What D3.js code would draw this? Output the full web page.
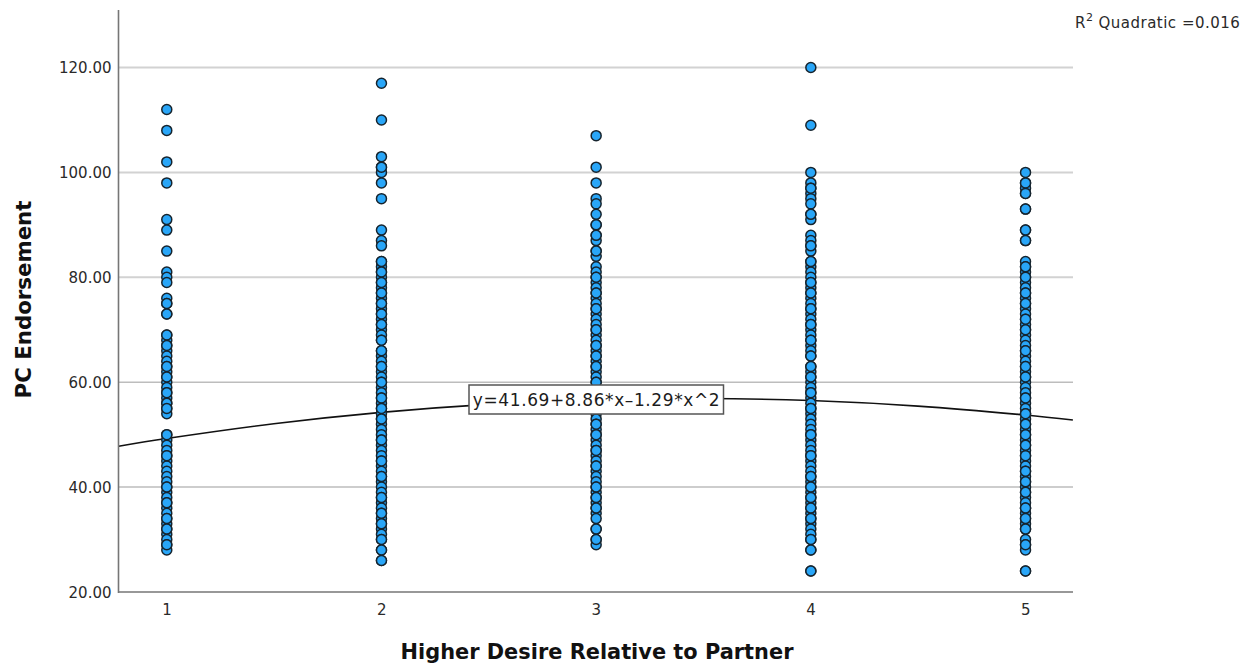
<!DOCTYPE html>
<html>
<head>
<meta charset="utf-8">
<script src="https://cdn.jsdelivr.net/npm/d3@7"></script>
<style>
html,body{margin:0;padding:0;background:#fff;}
svg{display:block;}
text{font-family:"DejaVu Sans",sans-serif;}
</style>
</head>
<body>
<svg id="chart" width="1253" height="667"></svg>
<script>
const categories = [1, 2, 3, 4, 5];
const yTicks = [20, 40, 60, 80, 100, 120];
const xTitle = "Higher Desire Relative to Partner";
const yTitle = "PC Endorsement";
const equation = "y=41.69+8.86*x\u20131.29*x^2";

// every value seen in each column
const col1 = [112,108,102,98,91,89,85,81,80,79,76,75,73,69,68,67,66,65,64,63,62,61,60,59,58,57,56,55,54,50,49,48,47,46,45,44,43,42,41,40,39,38,37,36,35,34,33,32,31,30,29,28];
const col2 = [117,110,103,101,100,98,95,89,87,86,83,82,81,80,79,78,77,76,75,74,73,72,71,70,69,68,66,65,64,63,62,61,60,59,58,57,56,55,54,53,52,51,50,49,48,47,46,45,44,43,42,41,40,39,38,37,36,35,34,33,32,31,30,28,26];
const col3 = [107,101,98,95,94,92,90,88,87,85,84,82,81,80,79,78,77,76,75,74,73,72,71,70,69,68,67,66,65,64,63,62,61,60,59,58,57,56,55,54,53,52,51,50,49,48,47,46,45,44,43,42,41,40,39,38,37,36,35,34,32,30,29];
const col4 = [120,109,100,98,97,96,95,94,92,91,88,87,86,85,83,82,81,80,79,78,77,76,75,74,73,72,71,70,69,68,67,66,65,63,62,61,60,59,58,57,56,55,54,53,52,51,50,49,48,47,46,45,44,43,42,41,40,39,38,37,36,35,34,33,32,31,30,28,24];
const col5 = [100,98,97,96,93,89,87,83,82,81,80,79,78,77,76,75,74,73,72,71,70,69,68,67,66,65,64,63,62,61,60,59,58,57,56,55,54,53,52,51,50,49,48,47,46,45,44,43,42,41,40,39,38,37,36,35,34,33,32,30,29,28,24];
// values whose marks lie on top of their neighbours
const top1 = [75,73,69,67,63,61,58,56,55,50,46,40,37,34,32,29];
const top2 = [101,83,81,79,77,75,73,71,68,66,63,60,57,55,53,49,45,42,38,35,33,30,28,26];
const top3 = [90,88,85,80,77,74,70,67,65,63,60,52,50,47,44,40,38,36,32,30];
const top4 = [97,92,86,83,79,77,74,71,68,65,63,61,58,55,50,46,42,40,38,36,34,30,28,24];
const top5 = [98,96,93,89,87,82,80,77,75,72,70,66,63,61,57,54,52,50,48,46,43,41,39,36,34,32,29,24];

// fitted curve
const curveX = [0.777,1,1.5,2,2.5,3,3.5,4,4.5,5,5.222];
const curveY = [47.8,49.26,52.08,54.25,55.78,56.66,56.9,56.5,55.44,53.74,52.79];

const columns = [col1,col2,col3,col4,col5];
const tops = [top1,top2,top3,top4,top5];

const svg = d3.select("#chart");
const plot = {left:118.5, right:1073, top:10, bottom:592};
const x = d3.scaleLinear().domain([0.7765,5.2225]).range([plot.left,plot.right]);
const y = d3.scaleLinear().domain([20,120]).range([plot.bottom,67.5]);

// gridlines
svg.append("g").selectAll("line").data(yTicks.filter(d=>d>20)).join("line")
  .attr("x1",plot.left).attr("x2",plot.right)
  .attr("y1",d=>y(d)).attr("y2",d=>y(d))
  .attr("stroke",d=>d>=80?"#d2d2d2":"#bdbdbd")
  .attr("stroke-width",d=>d>=80?2:1.5);

// curve
const line = d3.line().x((d,i)=>x(curveX[i])).y(d=>y(d)).curve(d3.curveCatmullRom);
svg.append("path").datum(curveY).attr("d",line)
  .attr("fill","none").attr("stroke","#111").attr("stroke-width",1.6);

// points
const mark = (g,vals,cat)=>g.selectAll(null).data(vals).join("circle")
  .attr("cx",x(cat)+0.3).attr("cy",d=>y(d)).attr("r",5)
  .attr("fill","#29a6f8").attr("stroke","#16242e").attr("stroke-width",1.5);
categories.forEach((c,i)=>{
  const g = svg.append("g");
  mark(g.append("g"),columns[i],c);
  mark(g.append("g"),tops[i],c);
});

// axes
const yAxis = d3.axisLeft(y).tickValues(yTicks).tickSize(0).tickPadding(7).tickFormat(d3.format(".2f"));
const xAxis = d3.axisBottom(x).tickValues(categories).tickSize(0).tickPadding(12).tickFormat(d3.format("d"));
const gy = svg.append("g").attr("transform",`translate(${plot.left},0)`).call(yAxis);
const gx = svg.append("g").attr("transform",`translate(0,${plot.bottom})`).call(xAxis);
gy.select(".domain").remove(); gx.select(".domain").remove();
gy.selectAll("text").attr("font-size",15).attr("fill","#2a2a2a").attr("font-family","DejaVu Sans").attr("dy","0.36em");
gx.selectAll("text").attr("font-size",15).attr("fill","#2a2a2a").attr("font-family","DejaVu Sans");
svg.append("line").attr("x1",plot.left).attr("x2",plot.left).attr("y1",plot.top).attr("y2",plot.bottom+1)
  .attr("stroke","#767676").attr("stroke-width",1.6);
svg.append("line").attr("x1",plot.left).attr("x2",plot.right).attr("y1",plot.bottom).attr("y2",plot.bottom)
  .attr("stroke","#767676").attr("stroke-width",1.6);

// titles
svg.append("text").attr("x",597).attr("y",659).attr("text-anchor","middle")
  .attr("font-size",20.9).attr("font-weight","bold").attr("fill","#111").text(xTitle);
svg.append("text").attr("transform","translate(31,299.5) rotate(-90)").attr("text-anchor","middle")
  .attr("font-size",21.3).attr("font-weight","bold").attr("fill","#111").text(yTitle);

// equation label
svg.append("rect").attr("x",469).attr("y",385).attr("width",254.5).attr("height",29)
  .attr("fill","#fff").attr("stroke","#555").attr("stroke-width",1.5);
svg.append("text").attr("x",596.5).attr("y",406).attr("text-anchor","middle")
  .attr("font-size",17).attr("letter-spacing",0.6).attr("fill","#1c1c1c").text(equation);

// R squared note
const r2 = svg.append("text").attr("x",1075).attr("y",28).attr("font-size",15).attr("letter-spacing",0.5).attr("fill","#2a2a2a");
r2.append("tspan").text("R");
r2.append("tspan").attr("dy",-7).attr("font-size",11).text("2");
r2.append("tspan").attr("dy",7).attr("dx",5).text("Quadratic =0.016");
</script>
</body>
</html>
